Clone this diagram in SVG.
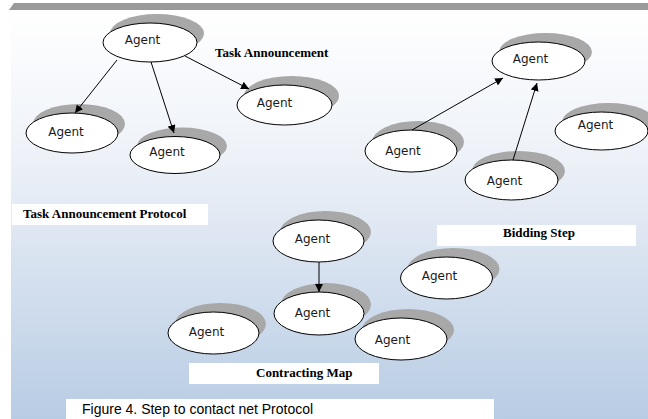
<svg xmlns="http://www.w3.org/2000/svg" width="648" height="419" viewBox="0 0 648 419">
<defs>
<linearGradient id="bg" x1="0" y1="0" x2="0" y2="1">
<stop offset="0" stop-color="#ffffff"/>
<stop offset="0.35" stop-color="#eef2f8"/>
<stop offset="1" stop-color="#b8cce4"/>
</linearGradient>
<marker id="ah" viewBox="0 0 10 10" refX="10" refY="5" markerWidth="8" markerHeight="8" markerUnits="userSpaceOnUse" orient="auto">
<path d="M0,0 L10,5 L0,10 Z" fill="#000"/>
</marker>
</defs>
<style>
.sh{fill:#a8a8a8}
.el{fill:#ffffff;stroke:#000;stroke-width:1}
.ag{font-family:"DejaVu Sans",sans-serif;font-size:12px;fill:#1a1a1a;text-anchor:middle}
.lb{font-family:"Liberation Serif",serif;font-size:13px;font-weight:bold;fill:#000}
.bx{fill:#ffffff}
.cn{stroke:#000;stroke-width:1;fill:none;marker-end:url(#ah)}
</style>
<rect x="0" y="0" width="648" height="419" fill="#ffffff"/>
<rect x="11" y="10" width="637" height="409" fill="url(#bg)"/>
<path d="M14,3 L648,3 L648,10 L9,10 Z" fill="#9a9a9a"/>

<g id="a1"><ellipse class="sh" cx="157" cy="33.5" rx="47" ry="19.5"/><ellipse class="el" cx="150" cy="42.5" rx="47" ry="19.5"/><text class="ag" x="142.5" y="44">Agent</text></g>
<g id="a2"><ellipse class="sh" cx="79" cy="124" rx="46" ry="20"/><ellipse class="el" cx="72" cy="133" rx="46" ry="20"/><text class="ag" x="66" y="136">Agent</text></g>
<g id="a3"><ellipse class="sh" cx="182" cy="146" rx="45" ry="18.5"/><ellipse class="el" cx="175" cy="155" rx="45" ry="18.5"/><text class="ag" x="167" y="156">Agent</text></g>
<g id="a4"><ellipse class="sh" cx="291.5" cy="96" rx="47.5" ry="20"/><ellipse class="el" cx="284.5" cy="105" rx="47.5" ry="20"/><text class="ag" x="274.5" y="106.5">Agent</text></g>

<g id="b1"><ellipse class="sh" cx="545.5" cy="52" rx="46.5" ry="19"/><ellipse class="el" cx="538.5" cy="61" rx="46.5" ry="19"/><text class="ag" x="530.5" y="63">Agent</text></g>
<g id="b2"><ellipse class="sh" cx="418" cy="142" rx="46" ry="21"/><ellipse class="el" cx="411" cy="151" rx="46" ry="21"/><text class="ag" x="403" y="155">Agent</text></g>
<g id="b3"><ellipse class="sh" cx="518.5" cy="171" rx="46.5" ry="20"/><ellipse class="el" cx="511.5" cy="180" rx="46.5" ry="20"/><text class="ag" x="504.5" y="185">Agent</text></g>
<g id="b4"><ellipse class="sh" cx="608.5" cy="122" rx="46.5" ry="19"/><ellipse class="el" cx="601.5" cy="131" rx="46.5" ry="19"/><text class="ag" x="595.5" y="128.5">Agent</text></g>

<g id="c1"><ellipse class="sh" cx="325.5" cy="232" rx="45.5" ry="21"/><ellipse class="el" cx="318.5" cy="241" rx="45.5" ry="21"/><text class="ag" x="312.5" y="243">Agent</text></g>
<g id="c2"><ellipse class="sh" cx="326" cy="304.5" rx="45" ry="21.5"/><ellipse class="el" cx="319" cy="313.5" rx="45" ry="21.5"/><text class="ag" x="312.5" y="316.5">Agent</text></g>
<g id="c3"><ellipse class="sh" cx="220.5" cy="324" rx="45.5" ry="21"/><ellipse class="el" cx="213.5" cy="333" rx="45.5" ry="21"/><text class="ag" x="206.5" y="335.5">Agent</text></g>
<g id="c4"><ellipse class="sh" cx="408" cy="330" rx="46" ry="21"/><ellipse class="el" cx="401" cy="339" rx="46" ry="21"/><text class="ag" x="392.5" y="344">Agent</text></g>
<g id="c5"><ellipse class="sh" cx="453.5" cy="269" rx="46" ry="21"/><ellipse class="el" cx="446.5" cy="278" rx="46" ry="21"/><text class="ag" x="439.5" y="280">Agent</text></g>

<g id="connectors">
<line class="cn" x1="117" y1="60" x2="75" y2="113"/>
<line class="cn" x1="151" y1="62" x2="174" y2="133"/>
<line class="cn" x1="185" y1="56" x2="249" y2="89"/>
<line class="cn" x1="412" y1="130" x2="503" y2="78"/>
<line class="cn" x1="513" y1="160" x2="537" y2="83"/>
<line class="cn" x1="319" y1="262" x2="319" y2="292"/>
</g>

<g id="lbl-task"><text class="lb" x="215" y="57">Task Announcement</text></g>
<g id="lbl-tap"><rect class="bx" x="12" y="204" width="196" height="21"/><text class="lb" x="23" y="218">Task Announcement Protocol</text></g>
<g id="lbl-bid"><rect class="bx" x="437" y="225" width="199" height="21"/><text class="lb" x="503" y="237">Bidding Step</text></g>
<g id="lbl-con"><rect class="bx" x="189" y="363" width="190" height="21"/><text class="lb" x="256" y="377">Contracting Map</text></g>
<g id="caption"><rect class="bx" x="66" y="399" width="428" height="20"/><text x="82" y="414" font-family="'Liberation Sans',Arial,sans-serif" font-size="14" fill="#000">Figure 4. Step to contact net Protocol</text></g>
</svg>
